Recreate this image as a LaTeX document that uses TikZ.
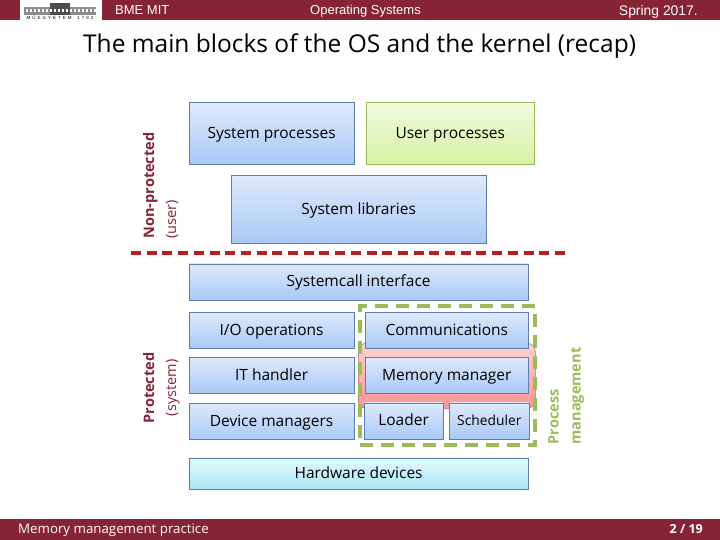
\documentclass[tikz,border=0pt]{standalone}
\usepackage{fontspec}
\setmainfont{Open Sans}
\newfontfamily\headfont{Liberation Sans}
\usepackage{xcolor}
\usetikzlibrary{positioning,calc}
\definecolor{bmered}{HTML}{862334}
\definecolor{blueedge}{HTML}{5B7FA8}
\definecolor{bluetop}{HTML}{DEE9FC}
\definecolor{bluebot}{HTML}{A9C9F6}
\definecolor{usrtop}{HTML}{F1FBDD}
\definecolor{usrbot}{HTML}{D6F2A6}
\definecolor{hwdtop}{HTML}{E2FAFE}
\definecolor{hwdbot}{HTML}{A8E6F4}
\definecolor{prmgreen}{HTML}{9BBB59}
\definecolor{sepred}{HTML}{B81E2A}
\begin{document}
\begin{tikzpicture}[
  x=1pt, y=-1pt, font=\fontsize{15.5}{18}\selectfont, node distance=9pt,
  blk/.style  ={draw=blueedge, line width=0.7pt, inner sep=0pt, top color=bluetop,
                bottom color=bluebot, minimum height=36pt, minimum width=164.5pt,
                text height=12pt, text depth=2pt},
  usr/.style  ={blk, draw=prmgreen, top color=usrtop, bottom color=usrbot,
                minimum height=61.5pt, minimum width=167.5pt},
  hwd/.style  ={blk, top color=hwdtop, bottom color=hwdbot},
  side/.style ={rotate=90, align=left, inner sep=0pt, font=\fontsize{14.5}{22}\selectfont\bfseries},
  bar/.style  ={fill=bmered, draw=none, inner sep=0pt},
  head/.style ={text=white, inner sep=0pt, font=\fontsize{13}{14}\selectfont\headfont}]

\useasboundingbox (0,0) rectangle (720,540);

% header and footer
\node[bar, anchor=north west, minimum width=720pt, minimum height=19.5pt] (top) at (0,0) {};
\node[bar, anchor=south west, minimum width=720pt, minimum height=21pt] (foot) at (0,540) {};
\node[fill=white, anchor=north west, inner sep=0pt, minimum width=82pt, minimum height=20pt] (logo) at (20,0) {};
\fill[black!45] (24,7) rectangle (96,15);
\fill[black!70] (50,3) rectangle (70,15);
\foreach \i in {0,...,17}
  \fill[white] (26+4*\i,9) rectangle +(1.5,3);
\node[inner sep=0pt, font=\fontsize{4.5}{5}\selectfont\headfont] (logotxt) at (60,18) {M \,Ű \,E \,G \,Y \,E \,T \,E \,M \quad 1 \,7 \,8 \,2};
\node[head, anchor=west] (org) at (115,10.5) {BME MIT};
\node[head] (crs) at (365.5,11.5) {Operating Systems};
\node[head, anchor=east, font=\fontsize{13.9}{14}\selectfont\headfont] (sem) at (698,11.5) {Spring 2017.};
\node[text=white, anchor=west, inner sep=0pt, font=\fontsize{13.3}{14}\selectfont] (prs) at (18,530) {Memory management practice};
\node[text=white, anchor=east, inner sep=0pt, font=\fontsize{12.5}{14}\selectfont\bfseries] (pg) at (703,529.5) {2 / 19};
\node[anchor=west, inner sep=0pt, font=\fontsize{24.5}{26}\selectfont] (title) at (83,46) {The main blocks of the OS and the kernel (recap)};

% pink band goes under the boxes
\node[draw=bmered!70, top color=red!18!white, bottom color=red!42!white, rounded corners=8pt, line width=0.5pt,
      anchor=north west, minimum width=177pt, minimum height=65pt, inner sep=0pt] (memband) at (358,343) {};

% user side
\node[blk, minimum height=61.5pt, anchor=north west] (sysp) at (189,102.5) {System processes};
\node[usr, right=12pt of sysp] (usrp) {User processes};
\node[blk, anchor=north west, minimum width=254.5pt, minimum height=67.5pt] (slib) at (231,175.5) {System libraries};

% kernel side
\node[blk, anchor=north west, minimum width=339.5pt] (scall) at (188.5,263.5) {Systemcall interface};
\node[blk, anchor=north west] (io) at (189,312) {I/O operations};
\node[blk, right=10.5pt of io, minimum width=163.5pt] (comm) {Communications};
\node[blk, below=8.5pt of io] (ith) {IT handler};
\node[blk, below=8pt of comm, minimum width=163.5pt] (mem) {Memory manager};
\node[blk, below=9pt of ith] (dev) {Device managers};
\node[blk, anchor=north west, minimum width=78.5pt] (load) at (364,402.5) {Loader};
\node[blk, right=6pt of load, minimum width=79.5pt, font=\fontsize{13.8}{14}\selectfont] (sched) {Scheduler};
\node[hwd, anchor=north west, minimum width=339.5pt, minimum height=31.5pt] (hw) at (188.5,457.5) {Hardware devices};

% borders
\coordinate (sepL) at (131,253);
\coordinate (sepR) at (565,253);
\draw[sepred, line width=3.5pt, dash pattern=on 10pt off 5.7pt] (sepL) -- (sepR);
\node[draw=prmgreen, line width=4pt, dash pattern=on 13pt off 8pt, anchor=north west, inner sep=0pt, outer sep=0pt,
      minimum width=175.5pt, minimum height=139pt] (prm) at (359.5,306) {};

% side labels
\node[side, text=bmered, anchor=north west] (nonp) at (143,238.5) {Non-protected\\\mdseries (user)};
\node[side, text=bmered, anchor=north west, align=center] (prot) at (143,423.5) {Protected\\\mdseries (system)};
\node[side, text=prmgreen, anchor=north west] (pmg) at (548,444.5) {Process\\management};
\end{tikzpicture}
\end{document}
